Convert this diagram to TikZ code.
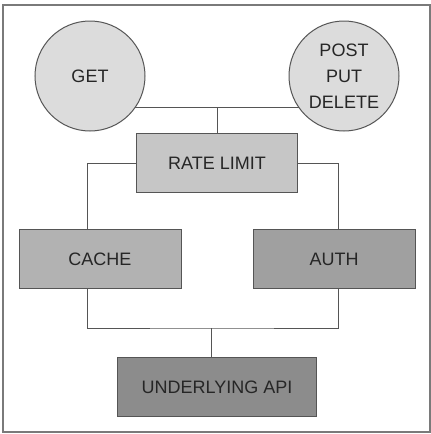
\documentclass[tikz,border=0pt]{standalone}
\usepackage{fontspec}
\setmainfont{Liberation Sans}
\definecolor{lineGray}{HTML}{555555}
\definecolor{frameGray}{HTML}{7A7A7A}
\definecolor{verbFill}{HTML}{DCDCDC}
\definecolor{rateFill}{HTML}{C6C6C6}
\definecolor{cacheFill}{HTML}{B2B2B2}
\definecolor{authFill}{HTML}{A0A0A0}
\definecolor{apiFill}{HTML}{8C8C8C}
\tikzset{
	verb/.style={circle, draw=lineGray, line width=1pt, fill=verbFill, minimum size=110pt, inner sep=0pt, align=center, font=\fontsize{18}{26}\selectfont, text=black!85},
	layer/.style={rectangle, draw=lineGray, line width=1pt, minimum height=59pt, inner sep=0pt, font=\fontsize{18}{21}\selectfont, text=black!85},
	link/.style={draw=lineGray, line width=1pt}
}
\begin{document}
\begin{tikzpicture}[x=1pt, y=-1pt]
		\useasboundingbox (0,0) rectangle (431,434);
		\draw[frameGray, line width=1.5pt] (3,5) rectangle (430,432);
		
		\node[verb] (GET) at (90,76) {GET};
		\node[verb] (POST) at (344,76) {POST\\PUT\\DELETE};
		
		\node[layer, fill=rateFill, minimum width=161pt] (RATE) at (217,163) {RATE LIMIT};
		\node[layer, fill=cacheFill, minimum width=162pt] (CACHE) at (100,259) {CACHE};
		\node[layer, fill=authFill, minimum width=162pt] (AUTH) at (334,259) {AUTH};
		\node[layer, fill=apiFill, minimum width=199pt] (API) at (217,387) {UNDERLYING API};
		
		\coordinate (JOIN) at (211,328);
		
		\draw[link] (GET.-35) -- (POST.-145);
		\draw[link] (RATE.north) -- (RATE.north |- GET.-35);
		\draw[link] (RATE.west) -| ([xshift=-13pt]CACHE.north);
		\draw[link] (RATE.east) -| ([xshift=4pt]AUTH.north);
		\draw[link] ([xshift=-13pt]CACHE.south) |- (JOIN) -| ([xshift=4pt]AUTH.south);
		\draw[link] (JOIN) -- (JOIN |- API.north);
	\end{tikzpicture}
\end{document}
